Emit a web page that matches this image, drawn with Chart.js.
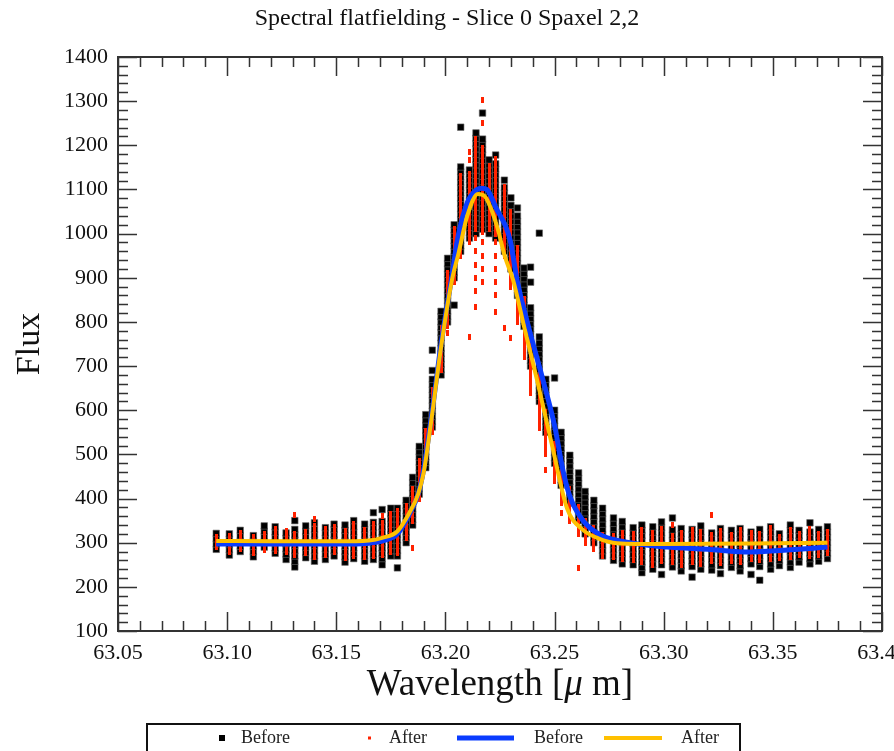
<!DOCTYPE html>
<html>
<head>
<meta charset="utf-8">
<title>Spectral flatfielding</title>
<script src="https://cdn.jsdelivr.net/npm/chart.js@4.4.1/dist/chart.umd.min.js"></script>
<style>
    html, body { margin: 0; padding: 0; background: #fff; }
    #wrap { width: 894px; height: 751px; }
</style>
</head>
<body>
<div id="wrap"><canvas id="chart" width="894" height="751"></canvas></div>
<script>
// Wavelength of each readout column [um]
const wavelengths = [
    63.095, 63.101, 63.106, 63.112, 63.117, 63.122, 63.127, 63.131, 63.136, 63.140,
    63.145, 63.149, 63.154, 63.158, 63.163, 63.167, 63.171, 63.175, 63.178, 63.182,
    63.185, 63.188, 63.191, 63.194, 63.198, 63.201, 63.204, 63.207, 63.211, 63.214,
    63.217, 63.220, 63.223, 63.227, 63.230, 63.233, 63.236, 63.239, 63.243, 63.246,
    63.250, 63.253, 63.257, 63.261, 63.264, 63.268, 63.272, 63.277, 63.281, 63.286,
    63.290, 63.295, 63.299, 63.304, 63.308, 63.313, 63.317, 63.322, 63.326, 63.331,
    63.335, 63.340, 63.344, 63.349, 63.353, 63.358, 63.362, 63.367, 63.371, 63.375
];

// Flux readouts per column, before flatfielding
const beforeFlux = [
    [285, 297, 309, 321],
    [272, 284, 296, 308, 320],
    [280, 292, 304, 316, 328],
    [268, 280, 292, 304, 316],
    [290, 302, 314, 326, 338],
    [276, 288, 300, 312, 324, 336],
    [262, 274, 286, 298, 310, 322],
    [245, 258, 270, 282, 294, 306, 318, 330, 350],
    [266, 278, 290, 302, 314, 326, 338],
    [258, 270, 282, 294, 306, 318, 330, 345],
    [262, 274, 286, 298, 310, 322, 334],
    [270, 282, 294, 306, 318, 330, 342],
    [256, 268, 280, 292, 304, 316, 328, 340],
    [264, 276, 288, 300, 312, 324, 336, 350],
    [258, 270, 282, 294, 306, 318, 330, 342],
    [262, 274, 286, 298, 310, 322, 334, 346, 368],
    [250, 264, 276, 288, 300, 312, 324, 336, 348, 375],
    [270, 282, 294, 306, 318, 330, 342, 354, 366, 378],
    [243, 270, 282, 294, 306, 318, 330, 342, 354, 366, 378],
    [300, 312, 324, 336, 348, 360, 372, 384, 396],
    [340, 352, 364, 376, 388, 400, 412, 424, 436, 448],
    [410, 422, 434, 446, 458, 470, 482, 494, 506, 518],
    [470, 482, 494, 506, 518, 530, 542, 554, 566, 578, 590],
    [562, 574, 586, 598, 610, 622, 634, 646, 658, 670, 690, 736],
    [680, 692, 704, 716, 728, 740, 752, 764, 776, 788, 800, 812, 824],
    [800, 812, 824, 836, 848, 860, 872, 884, 896, 908, 920, 932, 944],
    [838, 900, 912, 924, 936, 948, 960, 972, 984, 996, 1008, 1020],
    [960, 972, 984, 996, 1008, 1020, 1032, 1044, 1056, 1068, 1080, 1092, 1104, 1116, 1128, 1140, 1151, 1241],
    [990, 1002, 1014, 1026, 1038, 1050, 1062, 1074, 1086, 1098, 1110, 1122, 1134, 1144],
    [1000, 1012, 1024, 1036, 1048, 1060, 1072, 1084, 1096, 1108, 1120, 1132, 1144, 1156, 1168, 1180, 1192, 1204, 1216, 1228],
    [1010, 1022, 1034, 1046, 1058, 1070, 1082, 1094, 1106, 1118, 1130, 1142, 1154, 1166, 1178, 1190, 1202, 1214, 1273],
    [1000, 1012, 1024, 1036, 1048, 1060, 1072, 1084, 1096, 1108, 1120, 1132, 1144, 1156, 1167],
    [990, 1002, 1014, 1026, 1038, 1050, 1062, 1074, 1086, 1098, 1110, 1122, 1134, 1146, 1158, 1178],
    [960, 972, 984, 996, 1008, 1020, 1032, 1044, 1056, 1068, 1080, 1092, 1104, 1121],
    [920, 932, 944, 956, 968, 980, 992, 1004, 1016, 1028, 1040, 1052, 1064, 1081],
    [860, 872, 884, 896, 908, 920, 932, 944, 956, 968, 980, 992, 1004, 1016, 1028, 1040, 1058],
    [790, 802, 814, 826, 838, 850, 862, 874, 886, 898, 910, 922],
    [700, 712, 724, 736, 748, 760, 772, 784, 796, 808, 820, 832, 890, 924],
    [620, 632, 644, 656, 668, 680, 692, 704, 716, 728, 740, 752, 766, 1001],
    [550, 562, 574, 586, 598, 610, 622, 634, 646, 658, 670],
    [480, 492, 504, 516, 528, 540, 552, 564, 576, 588, 600, 673],
    [430, 442, 454, 466, 478, 490, 502, 514, 526, 538, 550],
    [390, 402, 414, 426, 438, 450, 462, 474, 486, 498],
    [350, 362, 374, 386, 398, 410, 422, 434, 446, 458],
    [320, 332, 344, 356, 368, 380, 392, 404, 416],
    [300, 312, 324, 336, 348, 360, 372, 384, 396],
    [270, 282, 294, 306, 318, 330, 342, 354, 366, 378],
    [260, 272, 284, 296, 308, 320, 332, 344, 356],
    [252, 264, 276, 288, 300, 312, 324, 336, 348],
    [250, 262, 274, 286, 298, 310, 322, 334],
    [232, 244, 256, 268, 280, 292, 304, 316, 328, 340],
    [240, 252, 264, 276, 288, 300, 312, 324, 336],
    [228, 250, 262, 274, 286, 298, 310, 322, 334, 347],
    [245, 257, 269, 281, 293, 305, 317, 329, 356],
    [236, 248, 260, 272, 284, 296, 308, 320, 332],
    [222, 246, 258, 270, 282, 294, 306, 318, 330],
    [240, 252, 264, 276, 288, 300, 312, 324, 338],
    [238, 250, 262, 274, 286, 298, 310, 322],
    [230, 248, 260, 272, 284, 296, 308, 320, 332],
    [244, 256, 268, 280, 292, 304, 316, 328],
    [236, 248, 260, 272, 284, 296, 308, 320, 332],
    [228, 252, 264, 276, 288, 300, 312, 324],
    [215, 246, 258, 270, 282, 294, 306, 318, 330],
    [240, 252, 264, 276, 288, 300, 312, 324, 336],
    [248, 260, 272, 284, 296, 308, 320],
    [244, 256, 268, 280, 292, 304, 316, 328, 340],
    [256, 268, 280, 292, 304, 316, 328],
    [252, 264, 276, 288, 300, 312, 324, 345],
    [258, 270, 282, 294, 306, 318, 330],
    [264, 276, 288, 300, 312, 324, 336]
];

// Flux readouts per column, after flatfielding
const afterFlux = [
    [290, 302, 314],
    [280, 292, 304, 316],
    [286, 298, 310, 322],
    [276, 288, 300, 312],
    [284, 296, 308, 320],
    [282, 294, 306, 318, 330],
    [278, 290, 302, 314, 326],
    [272, 284, 296, 308, 320, 362],
    [276, 288, 300, 312, 324],
    [268, 280, 292, 304, 316, 328, 338, 354],
    [272, 284, 296, 308, 320, 330],
    [278, 290, 302, 314, 326, 336],
    [266, 278, 290, 302, 314, 326],
    [270, 282, 294, 306, 318, 330, 342],
    [268, 280, 292, 304, 316, 328],
    [270, 282, 294, 306, 318, 330, 342],
    [272, 284, 296, 308, 320, 332, 344, 360],
    [280, 292, 304, 316, 328, 340, 352, 364],
    [276, 288, 300, 312, 324, 336, 348, 360, 372],
    [310, 322, 334, 346, 358, 370, 382],
    [288, 350, 362, 374, 386, 398, 410, 422],
    [400, 412, 424, 436, 448, 460, 472, 484],
    [480, 492, 504, 516, 528, 540, 552],
    [550, 562, 574, 586, 598, 610, 622, 634, 646],
    [690, 702, 714, 726, 738, 750, 762, 774, 786],
    [775, 790, 802, 814, 826, 838, 850, 862, 874, 886, 898, 910],
    [890, 902, 914, 926, 938, 950, 962, 974, 986, 998, 1010],
    [950, 962, 974, 986, 998, 1010, 1022, 1034, 1046, 1058, 1070, 1082, 1094, 1106, 1118, 1130],
    [766, 980, 992, 1004, 1016, 1028, 1040, 1052, 1064, 1076, 1088, 1100, 1112, 1124, 1136, 1166, 1185],
    [834, 870, 900, 930, 960, 990, 1010, 1022, 1034, 1046, 1058, 1070, 1082, 1094, 1106, 1118, 1130, 1142, 1154, 1166, 1178, 1190, 1202, 1214],
    [890, 920, 950, 980, 1003, 1015, 1027, 1039, 1051, 1063, 1075, 1087, 1099, 1111, 1123, 1135, 1147, 1159, 1171, 1183, 1195, 1250, 1303],
    [1010, 1022, 1034, 1046, 1058, 1070, 1082, 1094, 1106, 1118, 1130, 1142, 1154],
    [823, 860, 890, 920, 950, 980, 1000, 1012, 1024, 1036, 1048, 1060, 1072, 1084, 1096, 1108, 1120, 1132, 1144, 1156, 1168],
    [786, 950, 962, 974, 986, 998, 1010, 1022, 1034, 1046, 1058, 1070, 1082, 1094, 1106],
    [763, 880, 892, 904, 916, 928, 940, 952, 964, 976, 988, 1000, 1012, 1024, 1036, 1048],
    [800, 812, 824, 836, 848, 860, 872, 884, 896, 908, 920, 932, 944, 956, 968],
    [720, 732, 744, 756, 768, 780, 792, 804, 816, 828, 840, 852],
    [640, 652, 664, 676, 688, 700, 712, 724, 736, 748, 760, 772],
    [560, 572, 584, 596, 608, 620, 632, 644, 656, 668, 680],
    [465, 500, 512, 524, 536, 548, 560, 572, 584, 596],
    [440, 452, 464, 476, 488, 500, 512, 524],
    [367, 390, 402, 414, 426, 438, 450, 462],
    [350, 362, 374, 386, 398, 410, 422],
    [243, 320, 332, 344, 356, 368, 380],
    [300, 312, 324, 336, 348],
    [285, 297, 309, 321, 333],
    [270, 282, 294, 306, 318],
    [268, 280, 292, 304, 316],
    [262, 274, 286, 298, 310, 322],
    [260, 272, 284, 296, 308, 320],
    [256, 268, 280, 292, 304, 316, 328],
    [250, 262, 274, 286, 298, 310, 322],
    [258, 270, 282, 294, 306, 318, 330],
    [256, 268, 280, 292, 304, 316, 340],
    [250, 262, 274, 286, 298, 310, 322],
    [256, 268, 280, 292, 304, 316, 328],
    [252, 264, 276, 288, 300, 312, 324],
    [258, 270, 282, 294, 306, 318, 363],
    [254, 266, 278, 290, 302, 314, 326],
    [258, 270, 282, 294, 306, 318],
    [256, 268, 280, 292, 304, 316, 328],
    [262, 274, 286, 298, 310, 322],
    [260, 272, 284, 296, 308, 320],
    [262, 274, 286, 298, 310, 322, 334],
    [266, 278, 290, 302, 314],
    [268, 280, 292, 304, 316, 328],
    [272, 284, 296, 308, 320],
    [270, 282, 294, 306, 318, 332],
    [272, 284, 296, 308, 320],
    [276, 288, 300, 312, 324]
];

// Fitted profile, before flatfielding
const fitBeforeWave = [
    63.095, 63.120, 63.150, 63.165, 63.172, 63.178, 63.1835, 63.1875, 63.190, 63.192,
    63.194, 63.198, 63.203, 63.2055, 63.210, 63.2145, 63.2167, 63.219, 63.223, 63.2296,
    63.2328, 63.238, 63.2447, 63.250, 63.254, 63.257, 63.263, 63.2708, 63.2859, 63.3015,
    63.320, 63.3395, 63.355, 63.375
];
const fitBeforeFlux = [
    297, 297, 297, 299, 305, 320, 365, 410, 465, 530,
    600, 750, 905, 986, 1070, 1100, 1103, 1100, 1060, 986,
    895, 790, 668, 565, 460, 405, 350, 318, 299, 290,
    285, 279, 283, 290
];

// Fitted profile, after flatfielding
const fitAfterWave = [
    63.095, 63.120, 63.150, 63.165, 63.171, 63.178, 63.1835, 63.1875, 63.190, 63.192,
    63.194, 63.198, 63.203, 63.206, 63.210, 63.2149, 63.218, 63.221, 63.224, 63.2273,
    63.231, 63.236, 63.242, 63.249, 63.2557, 63.263, 63.270, 63.2786, 63.300, 63.340,
    63.375
];
const fitAfterFlux = [
    304, 303, 303, 305, 311, 326, 368, 410, 458, 522,
    594, 743, 895, 955, 1040, 1090, 1085, 1055, 1010, 947,
    895, 790, 668, 517, 378, 329, 310, 299, 297, 298,
    300
];

// Axis ticks
const xTickValues = [63.05, 63.10, 63.15, 63.20, 63.25, 63.30, 63.35, 63.40];
const xTickLabels = ['63.05', '63.10', '63.15', '63.20', '63.25', '63.30', '63.35', '63.40'];
const yTickValues = [100, 200, 300, 400, 500, 600, 700, 800, 900, 1000, 1100, 1200, 1300, 1400];

const SERIF = '"Liberation Serif", "DejaVu Serif", serif';

function columnPoints(cols) {
    const pts = [];
    cols.forEach((vals, i) => {
        vals.forEach(v => pts.push({ x: wavelengths[i], y: v }));
    });
    return pts;
}

function curvePoints(xs, ys) {
    return xs.map((w, i) => ({ x: w, y: ys[i] }));
}

// small upright red dash used as marker for the corrected readouts
const redMark = document.createElement('canvas');
redMark.width = 3;
redMark.height = 6;
const rm = redMark.getContext('2d');
rm.fillStyle = '#ff2200';
rm.fillRect(0, 0, 3, 6);

// Frame, inward ticks, labels, title and legend box
const framePlugin = {
    id: 'framePlugin',
    afterDatasetsDraw(chart) {
        const ctx = chart.ctx;
        const a = chart.chartArea;
        const xs = chart.scales.x;
        const ys = chart.scales.y;
        const major = 19, minor = 10;

        ctx.save();
        ctx.strokeStyle = '#333';
        ctx.lineWidth = 1.5;
        ctx.beginPath();
        // x ticks every 0.01, major every 0.05
        for (let k = 0; k <= 35; k++) {
            const px = Math.round(xs.getPixelForValue(63.05 + k * 0.01)) + 0.5;
            const len = k % 5 === 0 ? major : minor;
            ctx.moveTo(px, a.bottom); ctx.lineTo(px, a.bottom - len);
            ctx.moveTo(px, a.top); ctx.lineTo(px, a.top + len);
        }
        // y ticks every 20, major every 100
        for (let k = 0; k <= 65; k++) {
            const py = Math.round(ys.getPixelForValue(100 + k * 20)) + 0.5;
            const len = k % 5 === 0 ? major : minor;
            ctx.moveTo(a.left, py); ctx.lineTo(a.left + len, py);
            ctx.moveTo(a.right, py); ctx.lineTo(a.right - len, py);
        }
        ctx.stroke();

        ctx.lineWidth = 2;
        ctx.strokeRect(a.left, a.top, a.right - a.left, a.bottom - a.top);

        // tick labels
        ctx.fillStyle = '#111';
        ctx.font = '22px ' + SERIF;
        ctx.textAlign = 'right';
        ctx.textBaseline = 'middle';
        yTickValues.forEach(v => {
            ctx.fillText(String(v), a.left - 10, ys.getPixelForValue(v));
        });
        ctx.textAlign = 'center';
        ctx.textBaseline = 'top';
        xTickValues.forEach((v, i) => {
            ctx.fillText(xTickLabels[i], xs.getPixelForValue(v), a.bottom + 11);
        });

        // title
        ctx.font = '24px ' + SERIF;
        ctx.textBaseline = 'middle';
        ctx.fillText('Spectral flatfielding - Slice 0 Spaxel 2,2', chart.width / 2, 19);

        // y axis title
        ctx.save();
        ctx.translate(30, (a.top + a.bottom) / 2);
        ctx.rotate(-Math.PI / 2);
        ctx.font = '34px ' + SERIF;
        ctx.fillText('Flux', 0, 0);
        ctx.restore();

        // x axis title with italic mu
        const cx = (a.left + a.right) / 2;
        const p1 = 'Wavelength [', p2 = '\u03bc', p3 = ' m]';
        const fs = 37;
        ctx.font = fs + 'px ' + SERIF;
        const w1 = ctx.measureText(p1).width;
        const w3 = ctx.measureText(p3).width;
        ctx.font = 'italic ' + fs + 'px ' + SERIF;
        const w2 = ctx.measureText(p2).width;
        let tx = cx - (w1 + w2 + w3) / 2;
        ctx.textAlign = 'left';
        ctx.textBaseline = 'alphabetic';
        const ty = 695;
        ctx.font = fs + 'px ' + SERIF;
        ctx.fillText(p1, tx, ty); tx += w1;
        ctx.font = 'italic ' + fs + 'px ' + SERIF;
        ctx.fillText(p2, tx, ty); tx += w2;
        ctx.font = fs + 'px ' + SERIF;
        ctx.fillText(p3, tx, ty);

        // legend box
        ctx.strokeStyle = '#111';
        ctx.lineWidth = 2;
        ctx.strokeRect(147, 724, 593, 40);
        const ly = 738;
        ctx.font = '18px ' + SERIF;
        ctx.textBaseline = 'middle';
        ctx.fillStyle = '#000';
        ctx.fillRect(219, ly - 3, 6, 6);
        ctx.fillStyle = '#222';
        ctx.fillText('Before', 241, ly);
        ctx.fillStyle = '#ff2200';
        ctx.fillRect(368, ly - 1.5, 3, 3);
        ctx.fillStyle = '#222';
        ctx.fillText('After', 389, ly);
        ctx.strokeStyle = '#0a3cff';
        ctx.lineWidth = 5;
        ctx.beginPath(); ctx.moveTo(457, ly); ctx.lineTo(514, ly); ctx.stroke();
        ctx.fillText('Before', 534, ly);
        ctx.strokeStyle = '#ffc000';
        ctx.lineWidth = 4;
        ctx.beginPath(); ctx.moveTo(604, ly); ctx.lineTo(662, ly); ctx.stroke();
        ctx.fillText('After', 681, ly);

        ctx.restore();
    }
};

new Chart(document.getElementById('chart'), {
    type: 'scatter',
    data: {
        datasets: [
            {
                label: 'After',
                data: curvePoints(fitAfterWave, fitAfterFlux),
                showLine: true,
                borderColor: '#ffc000',
                borderWidth: 4,
                pointRadius: 0,
                cubicInterpolationMode: 'monotone'
            },
            {
                label: 'Before',
                data: curvePoints(fitBeforeWave, fitBeforeFlux),
                showLine: true,
                borderColor: '#0a3cff',
                borderWidth: 5,
                pointRadius: 0,
                cubicInterpolationMode: 'monotone'
            },
            {
                label: 'After',
                data: columnPoints(afterFlux),
                pointStyle: redMark,
                pointRadius: 3,
                backgroundColor: '#ff2200',
                borderWidth: 0
            },
            {
                label: 'Before',
                data: columnPoints(beforeFlux),
                pointStyle: 'rect',
                pointRadius: 4.6,
                backgroundColor: '#000',
                borderColor: '#666',
                borderWidth: 0.6
            }
        ]
    },
    options: {
        responsive: false,
        animation: false,
        devicePixelRatio: 1,
        layout: { padding: { left: 118, right: 12, top: 57, bottom: 120 } },
        scales: {
            x: { type: 'linear', min: 63.05, max: 63.40, display: false },
            y: { type: 'linear', min: 100, max: 1400, display: false }
        },
        plugins: {
            legend: { display: false },
            title: { display: false },
            tooltip: { enabled: false }
        },
        events: []
    },
    plugins: [framePlugin]
});
</script>
</body>
</html>
